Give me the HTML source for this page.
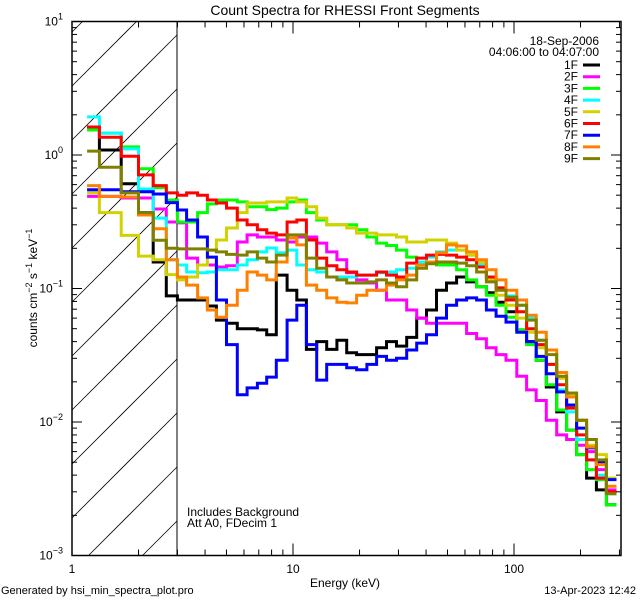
<!DOCTYPE html>
<html><head><meta charset="utf-8"><style>
html,body{margin:0;padding:0;background:#fff;width:640px;height:600px;overflow:hidden;}
svg{display:block;font-family:"Liberation Sans",sans-serif;}
</style></head><body>
<svg id="chart" width="640" height="600" viewBox="0 0 640 600" xmlns="http://www.w3.org/2000/svg">
<rect x="0" y="0" width="640" height="600" fill="#fff"/>
<defs><clipPath id="plotclip"><rect x="72" y="21.5" width="549" height="534"/></clipPath></defs>
<g id="hatch"></g>
<line x1="177" y1="21.5" x2="177" y2="555.5" stroke="#000" stroke-width="1"/>
<g id="series" clip-path="url(#plotclip)"></g>
<rect x="72" y="21.5" width="549" height="534" fill="none" stroke="#000" stroke-width="1.5"/>
<g id="ticks"></g>
<text x="345" y="15" font-size="14" text-anchor="middle">Count Spectra for RHESSI Front Segments</text>
<text x="345" y="587" font-size="12" text-anchor="middle">Energy (keV)</text>
<text transform="translate(37,288) rotate(-90)" font-size="12" text-anchor="middle">counts cm<tspan dy="-5" font-size="9">−2</tspan><tspan dy="5"> s</tspan><tspan dy="-5" font-size="9">−1</tspan><tspan dy="5"> keV</tspan><tspan dy="-5" font-size="9">−1</tspan></text>
<text x="1" y="594" font-size="11">Generated by hsi_min_spectra_plot.pro</text>
<text x="636" y="594" font-size="11" text-anchor="end">13-Apr-2023 12:42</text>
<text x="187" y="516" font-size="12">Includes Background</text>
<text x="187" y="527" font-size="12">Att A0, FDecim 1</text>
<text x="599" y="45" font-size="12" text-anchor="end">18-Sep-2006</text>
<text x="599" y="56" font-size="12" text-anchor="end">04:06:00 to 04:07:00</text>
<g id="legend"></g>
</svg>
<script>
const edges = [1.17,1.33,1.67,2,2.33,2.67,3,3.3,3.7,4.1,4.5,5,5.6,6.2,6.9,7.6,8.4,9.4,10.4,11.5,12.8,14.2,15.8,17.5,19.4,21.6,23.9,26.5,29.4,32.7,36.3,40.2,44.6,49.5,55,61,67.7,75,83,92,103,114,126,140,156,173,192,213,236,262,291];
const names = ["1F","2F","3F","4F","5F","6F","7F","8F","9F"];
const colors = ["#000000","#ff00ff","#00ff00","#00ffff","#d2d200","#ff0000","#0000ff","#ff8000","#808000"];
const s1F = [1.62,1.09,0.61,0.37,0.158,0.088,0.082,0.082,0.082,0.074,0.058,0.055,0.050,0.050,0.049,0.045,0.126,0.097,0.082,0.035,0.040,0.035,0.041,0.033,0.032,0.032,0.036,0.040,0.037,0.043,0.060,0.069,0.097,0.110,0.122,0.112,0.103,0.093,0.079,0.067,0.049,0.040,0.029,0.0183,0.0119,0.0087,0.0057,0.0038,0.0031,0.0024];
const s2F = [0.49,0.49,0.476,0.476,0.394,0.315,0.31,0.169,0.150,0.150,0.145,0.148,0.223,0.252,0.243,0.243,0.231,0.223,0.243,0.243,0.219,0.188,0.164,0.131,0.116,0.110,0.097,0.082,0.082,0.069,0.060,0.055,0.055,0.055,0.055,0.046,0.042,0.036,0.032,0.029,0.022,0.0174,0.0145,0.0103,0.0080,0.0074,0.0067,0.0060,0.0044,0.0031];
const s3F = [1.54,1.46,1.15,0.79,0.57,0.46,0.315,0.315,0.37,0.43,0.46,0.46,0.445,0.41,0.41,0.39,0.40,0.445,0.46,0.37,0.326,0.30,0.30,0.30,0.275,0.243,0.219,0.21,0.194,0.172,0.155,0.155,0.150,0.150,0.138,0.116,0.103,0.089,0.075,0.061,0.049,0.038,0.029,0.019,0.0123,0.0087,0.0057,0.0044,0.0037,0.0024];
const s4F = [1.93,1.46,1.11,0.556,0.337,0.164,0.150,0.133,0.131,0.133,0.138,0.138,0.150,0.164,0.188,0.201,0.185,0.194,0.150,0.138,0.133,0.122,0.122,0.122,0.126,0.126,0.131,0.133,0.138,0.142,0.158,0.172,0.188,0.194,0.194,0.178,0.150,0.122,0.101,0.088,0.075,0.060,0.041,0.027,0.0174,0.0119,0.0074,0.0052,0.0040,0.0029];
const s5F = [0.52,0.37,0.25,0.175,0.164,0.127,0.116,0.122,0.150,0.194,0.231,0.284,0.37,0.437,0.437,0.445,0.445,0.476,0.445,0.41,0.337,0.30,0.30,0.284,0.26,0.26,0.252,0.252,0.243,0.223,0.223,0.231,0.231,0.219,0.194,0.178,0.158,0.116,0.089,0.075,0.060,0.047,0.036,0.027,0.0213,0.0160,0.0103,0.0067,0.0057,0.0038];
const s6F = [1.62,1.36,0.98,0.71,0.59,0.52,0.50,0.52,0.50,0.46,0.437,0.40,0.326,0.30,0.275,0.26,0.252,0.315,0.326,0.231,0.169,0.148,0.138,0.133,0.126,0.126,0.133,0.126,0.122,0.155,0.169,0.178,0.18,0.178,0.172,0.164,0.145,0.122,0.101,0.082,0.067,0.05,0.038,0.027,0.019,0.0127,0.0080,0.0052,0.0038,0.0030];
const s7F = [0.55,0.55,0.53,0.53,0.51,0.44,0.387,0.326,0.243,0.172,0.082,0.038,0.016,0.018,0.0195,0.0217,0.029,0.058,0.075,0.038,0.0206,0.027,0.027,0.0255,0.0246,0.027,0.031,0.029,0.030,0.0346,0.039,0.045,0.060,0.075,0.082,0.085,0.082,0.069,0.062,0.056,0.047,0.040,0.031,0.023,0.0168,0.0134,0.0090,0.0064,0.0050,0.0037];
const s8F = [0.59,0.49,0.485,0.355,0.28,0.164,0.122,0.106,0.085,0.069,0.061,0.075,0.097,0.133,0.126,0.116,0.158,0.239,0.212,0.106,0.097,0.085,0.079,0.078,0.089,0.097,0.097,0.106,0.116,0.126,0.150,0.158,0.185,0.212,0.208,0.188,0.164,0.138,0.116,0.097,0.082,0.063,0.047,0.0346,0.0235,0.0154,0.0103,0.0065,0.0048,0.0033];
const s9F = [1.07,0.81,0.52,0.37,0.23,0.20,0.198,0.198,0.198,0.194,0.188,0.18,0.178,0.188,0.169,0.158,0.178,0.252,0.252,0.169,0.142,0.122,0.116,0.110,0.110,0.112,0.116,0.110,0.103,0.116,0.142,0.153,0.158,0.158,0.155,0.148,0.133,0.112,0.097,0.086,0.075,0.058,0.041,0.032,0.022,0.0165,0.0103,0.0074,0.0052,0.0029];
const seriesValues = [s1F,s2F,s3F,s4F,s5F,s6F,s7F,s8F,s9F];
const xMajor = [1,10,100];
const xMinor = [2,3,4,5,6,7,8,9,20,30,40,50,60,70,80,90,200,300];
const yExps = [-3,-2,-1,0,1];

const NS = "http://www.w3.org/2000/svg";
const X0 = 72, XDEC = 221, YTOP = 21.5, YDEC = 133.5;
function xs(e){ return X0 + XDEC*Math.log10(e); }
function ys(v){ return YTOP + YDEC*(1 - Math.log10(v)); }
function mk(tag, attrs, parent){ const el=document.createElementNS(NS,tag); for(const k in attrs) el.setAttribute(k,attrs[k]); parent.appendChild(el); return el; }

// hatch: lines y = c - x clipped manually to x∈[72,177], y∈[21.5,555.5]
const hatch=document.getElementById('hatch');
const HX0=72, HX1=177, HY0=21.5, HY1=555.5;
for(let k=-3;k<14;k++){
  const c=158+54*k;
  let xa=Math.max(HX0, c-HY1), xb=Math.min(HX1, c-HY0);
  if(xb<=xa) continue;
  const ln=mk('line',{x1:xa,y1:c-xa,x2:xb,y2:c-xb,stroke:'#000','stroke-width':0.8},hatch);
  
  
}

// series
const sg=document.getElementById('series');
const YMIN=YTOP, YMAX=YTOP+4*YDEC;
function yc(v){ return Math.min(YMAX, Math.max(YMIN, ys(v))); }
seriesValues.forEach((vals,i)=>{
  let d='M'+xs(edges[0]).toFixed(1)+' '+yc(vals[0]).toFixed(1);
  for(let j=0;j<vals.length;j++){
    if(j>0) d+=' V'+yc(vals[j]).toFixed(1);
    d+=' H'+Math.min(619,xs(edges[j+1])).toFixed(1);
  }
  const p=mk('path',{d:d,fill:'none',stroke:colors[i],'stroke-width':3,'stroke-linejoin':'miter'},sg);
  
  
});

// ticks
const tg=document.getElementById('ticks');
const YB=YTOP+4*YDEC, XR=621;
function tick(x1,y1,x2,y2,name){ const t=mk('line',{x1:x1,y1:y1,x2:x2,y2:y2,stroke:'#000','stroke-width':1},tg);
  
   }
xMajor.forEach(e=>{ const x=xs(e); tick(x,YB,x,YB-12,'x-major-tick'); tick(x,YTOP,x,YTOP+12,'x-major-tick-top');
  const t=mk('text',{x:x,y:573,'font-size':12,'text-anchor':'middle'},tg); t.textContent=String(e);
  
   });
xMinor.forEach(e=>{ const x=xs(e); tick(x,YB,x,YB-6,'x-minor-tick'); tick(x,YTOP,x,YTOP+6,'x-minor-tick-top'); });
yExps.forEach(p=>{ const y=ys(Math.pow(10,p)); tick(X0,y,X0+10,y,'y-major-tick'); tick(XR,y,XR-10,y,'y-major-tick-right');
  const t=mk('text',{x:63,y:y+4,'font-size':12,'text-anchor':'end'},tg);
  
  
  t.innerHTML='10<tspan dy="-6" font-size="9">'+(p<0?'−'+(-p):p)+'</tspan>';
  if(p<1){ for(let m=2;m<10;m++){ const yy=ys(m*Math.pow(10,p)); tick(X0,yy,X0+5,yy,'y-minor-tick'); tick(XR,yy,XR-5,yy,'y-minor-tick-right'); } }
});

// legend
const lg=document.getElementById('legend');
names.forEach((n,i)=>{
  const yb=69+i*11.7;
  const t=mk('text',{x:578,y:yb,'font-size':12,'text-anchor':'end'},lg); t.textContent=n;
  
  
  const l=mk('line',{x1:583,y1:yb-4,x2:600,y2:yb-4,stroke:colors[i],'stroke-width':3},lg);
  
  
});
</script>
</body></html>
